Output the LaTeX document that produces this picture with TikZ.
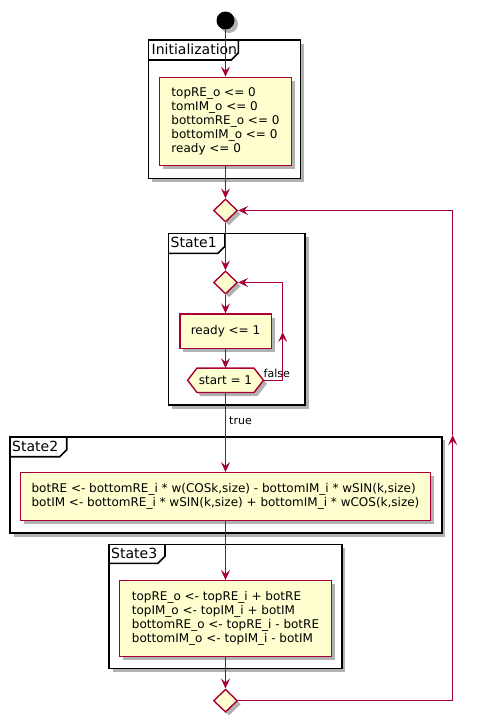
\documentclass[tikz,border=0pt]{standalone}
\usepackage{fontspec}
\setmainfont{DejaVu Sans}
\usetikzlibrary{arrows.meta,shapes.geometric,shadows,calc}
\definecolor{flowline}{HTML}{A80036}
\definecolor{actfill}{HTML}{FEFECE}
\begin{document}
\begin{tikzpicture}[x=1pt,y=-1pt,
  dropshade/.style={drop shadow={shadow xshift=3.5pt,shadow yshift=-3.5pt,opacity=0.3,fill=black}},
  action/.style={draw=flowline,line width=1.4pt,fill=actfill,dropshade,align=left,inner sep=0pt,
    font=\fontsize{12}{14}\selectfont},
  merge/.style={shape=diamond,draw=flowline,line width=1.4pt,fill=actfill,dropshade,
    minimum width=24pt,minimum height=23pt,inner sep=0pt},
  hexshape/.style={draw=flowline,line width=1.4pt,fill=actfill,dropshade},
  frame/.style={draw=black,line width=1.6pt,fill=white,dropshade},
  tabline/.style={draw=black,line width=1.6pt},
  frametitle/.style={anchor=base west,inner sep=0pt,font=\fontsize{14}{16}\selectfont},
  flow/.style={draw=flowline,line width=1pt,-{Stealth[length=10pt,width=9pt,inset=4pt]}},
  link/.style={draw=flowline,line width=1pt},
  guard/.style={font=\fontsize{11}{13}\selectfont,inner sep=0pt},
]
\useasboundingbox (0,0) rectangle (477,723);

% ---- frames (partitions) ----
\path[frame] (148.5,40) rectangle (300.5,178.3);
\draw[tabline] (148.5,60) -- (231.3,60) -- (238.3,53) -- (238.3,40);
\node[frametitle] (tinit) at (151.5,54.5) {Initialization};

\path[frame] (168.3,233.3) rectangle (305,405);
\draw[tabline] (168.3,253.3) -- (218,253.3) -- (225,246.3) -- (225,233.3);
\node[frametitle] (tstate1) at (170.5,247.8) {State1};

\path[frame] (10,436.7) rectangle (441.7,533);
\draw[tabline] (10,456.7) -- (59.7,456.7) -- (66.7,449.7) -- (66.7,436.7);
\node[frametitle] (tstate2) at (12,451) {State2};

\path[frame] (109,544.3) rectangle (341.7,668.3);
\draw[tabline] (109,563.3) -- (158,563.3) -- (165,556.3) -- (165,544.3);
\node[frametitle] (tstate3) at (111,558.5) {State3};

% ---- activity nodes ----
\node[circle,fill=black,minimum size=18pt,inner sep=0pt,dropshade] (start) at (225.5,20.5) {};

\node[action,minimum width=131.7pt,minimum height=88.4pt] (init) at (225.5,121.5)
  {topRE\_o <= 0\\tomIM\_o <= 0\\bottomRE\_o <= 0\\bottomIM\_o <= 0\\ready <= 0};

\node[merge] (m1) at (225.5,210.5) {};
\node[merge] (m2) at (225.5,282.5) {};

\node[action,minimum width=91.4pt,minimum height=34.3pt] (ready) at (225.5,331.2) {ready <= 1};

\node[minimum width=75.4pt,minimum height=24pt,inner sep=0pt] (hex) at (225.5,380.3) {};
\path[hexshape] (hex.west) -- ($(hex.north west)+(9.4,0)$) -- ($(hex.north east)+(-9.4,0)$)
  -- (hex.east) -- ($(hex.south east)+(-9.4,0)$) -- ($(hex.south west)+(9.4,0)$) -- cycle;
\node[inner sep=0pt,font=\fontsize{12}{14}\selectfont] (hextext) at (hex) {start = 1};

\node[action,minimum width=410.3pt,minimum height=48pt] (s2box) at (225.5,496.7)
  {botRE <- bottomRE\_i * w(COSk,size) - bottomIM\_i * wSIN(k,size)\\
   botIM <- bottomRE\_i * wSIN(k,size) + bottomIM\_i * wCOS(k,size)};

\node[action,minimum width=211.7pt,minimum height=76pt] (s3box) at (225.5,618.7)
  {topRE\_o <- topRE\_i + botRE\\topIM\_o <- topIM\_i + botIM\\
   bottomRE\_o <- topRE\_i - botRE\\bottomIM\_o <- topIM\_i - botIM};

\node[merge] (m3) at (225.5,700.7) {};

% ---- connectors ----
\draw[flow] (start) -- (init.north);
\draw[flow] (init.south) -- (m1.north);
\draw[flow] (m1.south) -- (m2.north);
\draw[flow] (m2.south) -- (ready.north);
\draw[flow] (ready.south) -- (hex.north);
\draw[flow] (hex.south) -- (s2box.north);
\draw[flow] (s2box.south) -- (s3box.north);
\draw[flow] (s3box.south) -- (m3.north);

% inner repeat loop (false branch)
\coordinate (f1) at (282.7,380.3);
\coordinate (f2) at (282.7,332);
\coordinate (f3) at (282.7,282.5);
\draw[flow] (hex.east) -- (f1) -- (f2);
\draw[flow] (f2) -- (f3) -- (m2.east);

% outer loop back to the first merge
\coordinate (r1) at (452.7,700.7);
\coordinate (r2) at (452.7,435);
\coordinate (r3) at (452.7,210.5);
\draw[flow] (m3.east) -- (r1) -- (r2);
\draw[flow] (r2) -- (r3) -- (m1.east);

% ---- guards ----
\node[guard,anchor=west] (lfalse) at (263.5,373.3) {false};
\node[guard,anchor=west] (ltrue) at (229,421) {true};
\end{tikzpicture}
\end{document}
